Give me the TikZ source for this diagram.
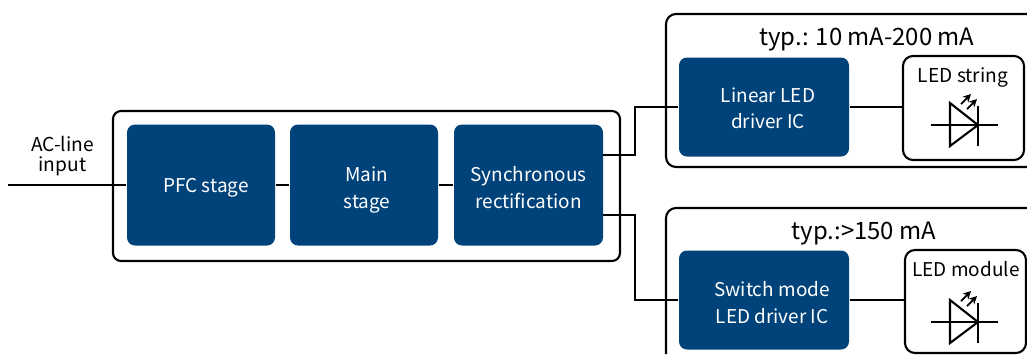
\documentclass[tikz,border=0pt]{standalone}
\usepackage{fontspec}
\setmainfont{Noto Sans CJK SC}
\usepackage[HTML]{xcolor}
\usepackage{tikz}
\usetikzlibrary{positioning, arrows, arrows.meta}
\definecolor{stageblue}{HTML}{00437A}
\newcommand{\nudge}[1]{\leavevmode\kern#1pt\relax}
\newcommand{\topgap}[1]{\rule{0pt}{#1pt}}
\tikzset{
  wire/.style={line width=0.6pt,black},
  stagebox/.style={fill=stageblue,text=white,rounded corners=0.8mm,align=center,inner sep=0pt,text depth=0pt,font=\fontsize{5.4}{7.6}\selectfont},
  ledbox/.style={draw,fill=white,line width=0.6pt,rounded corners=1mm,inner sep=0pt},
  ledlabel/.style={inner sep=0pt,font=\fontsize{5.45}{7}\selectfont},
  typlabel/.style={inner sep=0pt,font=\fontsize{6.8}{8}\selectfont},
  ledsym/.pic={
    \draw[wire] (-0.28,0.22)--(-0.28,-0.21)--(0,0)--cycle;
    \draw[wire] (-0.47,0)--(0.20,0);
    \draw[wire] (0,0.19)--(0,-0.21);
    \draw[-{Stealth[length=0.8mm,width=0.8mm]},line width=0.5pt] (-0.17,0.21)--(-0.07,0.31);
    \draw[-{Stealth[length=0.8mm,width=0.8mm]},line width=0.5pt] (-0.11,0.16)--(-0.01,0.26);
  }
}
\begin{document}
\begin{tikzpicture}
\useasboundingbox (0,0) rectangle (10.27,3.54);
% frames
\draw[wire,rounded corners=1mm] (10.27,3.40)--(6.66,3.40)--(6.66,1.87)--(10.27,1.87);
\draw[wire,rounded corners=1mm] (10.27,1.46)--(6.66,1.46)--(6.66,0);
\node[draw,line width=0.6pt,rounded corners=0.8mm,minimum width=5.07cm,minimum height=1.50cm,inner sep=0pt] (converter) at (3.665,1.68) {};
% blocks
\node[stagebox,minimum width=1.48cm,minimum height=1.21cm] (pfc) at (2.01,1.69) {\nudge{2.8}PFC stage};
\node[stagebox,minimum width=1.48cm,minimum height=1.21cm] (main) at (3.64,1.69) {\nudge{1.7}\topgap{5.6}Main\\\nudge{1.7}stage};
\node[stagebox,minimum width=1.49cm,minimum height=1.21cm] (sync) at (5.285,1.69) {\topgap{5.6}Synchronous\\rectification};
\node[stagebox,minimum width=1.70cm,minimum height=0.99cm] (linear) at (7.64,2.47) {\nudge{2.3}\topgap{4.8}Linear LED\\\nudge{2.3}driver IC};
\node[stagebox,minimum width=1.70cm,minimum height=0.99cm] (switch) at (7.64,0.54) {\nudge{4.6}\topgap{5.6}Switch mode\\\nudge{4.6}LED driver IC};
\node[ledbox,minimum width=1.21cm,minimum height=1.04cm] (string) at (9.635,2.46) {};
\node[ledbox,minimum width=1.21cm,minimum height=1.03cm] (module) at (9.655,0.525) {};
% texts
\node[align=center,inner sep=0pt,font=\fontsize{5.45}{5.6}\selectfont] (acline) at (0.625,1.98) {AC-line\\input};
\node[typlabel] (typlin) at (8.67,3.14) {typ.: 10 mA-200 mA};
\node[typlabel] (typsw) at (8.64,1.20) {typ.:>150 mA};
\node[ledlabel] (stringlabel) at (9.63,2.77) {LED string};
\node[ledlabel,font=\fontsize{5.4}{7}\selectfont] (modulelabel) at (9.66,0.85) {LED module};
% connectors
\coordinate (acin) at (0.08,1.69);
\coordinate (syncup) at (6.03,1.99);
\coordinate (syncdown) at (6.03,1.39);
\draw[wire] (acin)--(pfc);
\draw[wire] (pfc)--(main);
\draw[wire] (main)--(sync);
\draw[wire] (syncup)--++(0.32,0)|-(linear);
\draw[wire] (syncdown)--++(0.32,0)|-(switch);
\draw[wire] (linear)--(linear-|string.west);
\draw[wire] (switch)--(switch-|module.west);
% led symbols
\pic at (9.78,2.29) {ledsym};
\pic at (9.78,0.32) {ledsym};
\end{tikzpicture}
\end{document}
